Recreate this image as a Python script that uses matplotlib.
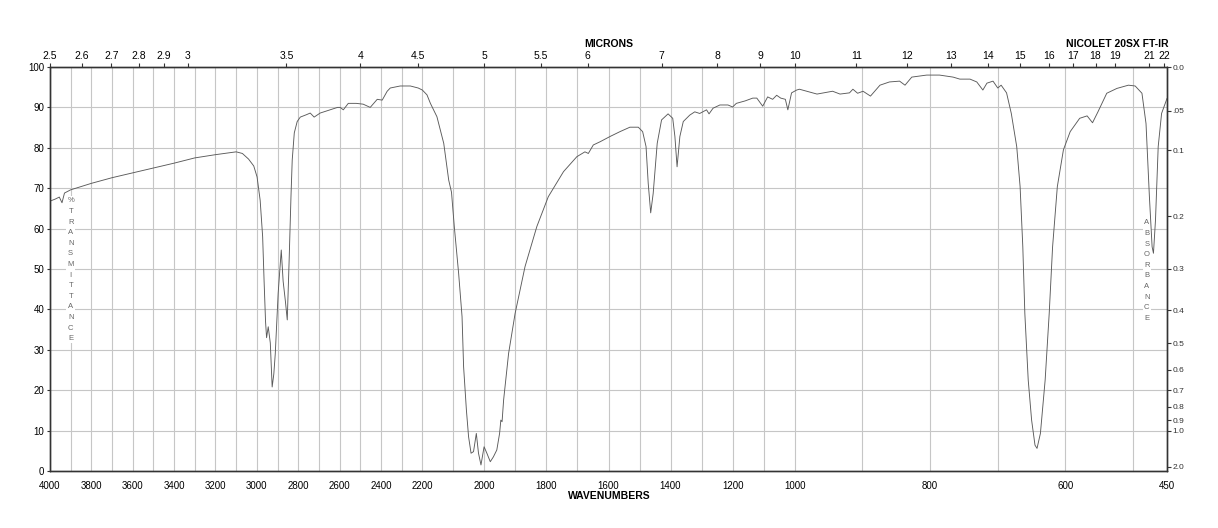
import numpy as np
import matplotlib
matplotlib.use("Agg")
import matplotlib.pyplot as plt

plt.rcParams["font.family"] = ["Liberation Sans", "DejaVu Sans"]

# spectrum: wavenumber (cm-1) and %T
wavenumber = [
    4000, 3975, 3955, 3942, 3930, 3900, 3850, 3800, 3700, 3600, 3500, 3400,
    3300, 3200, 3130, 3100, 3070, 3040, 3015, 2999, 2984, 2972, 2965, 2958,
    2953, 2945, 2935, 2926, 2918, 2911, 2897, 2882, 2873, 2862, 2853, 2844,
    2835, 2829, 2819, 2805, 2790, 2760, 2742, 2723, 2694, 2645, 2610, 2597,
    2582, 2558, 2520, 2486, 2452, 2418, 2394, 2370, 2355, 2307, 2258, 2220,
    2200, 2185, 2174, 2153, 2131, 2115, 2106, 2097, 2083, 2072, 2067, 2058,
    2051, 2043, 2035, 2026, 2019, 2011, 2001, 1992, 1981, 1971, 1960, 1951,
    1947, 1943, 1938, 1922, 1901, 1869, 1831, 1794, 1745, 1702, 1676, 1665,
    1649, 1627, 1595, 1563, 1531, 1504, 1490, 1479, 1472, 1464, 1456, 1443,
    1429, 1408, 1393, 1386, 1379, 1370, 1359, 1338, 1322, 1306, 1284, 1276,
    1263, 1241, 1215, 1200, 1188, 1160, 1135, 1122, 1103, 1087, 1071, 1058,
    1045, 1030, 1022, 1010, 997, 993, 978, 967, 944, 933, 919, 914,
    907, 899, 888, 874, 860, 845, 837, 827, 805, 786, 766, 756,
    741, 731, 722, 716, 707, 700, 695, 687, 680, 672, 667, 663,
    660, 655, 650, 645, 642, 637, 630, 624, 619, 612, 603, 593,
    579, 568, 560, 552, 539, 524, 507, 497, 487, 481, 476, 472,
    470, 467, 463, 458, 450,
]
transmittance = [
    66.8, 67.3, 67.8, 66.4, 68.8, 69.6, 70.4, 71.2, 72.6, 73.8, 75.0, 76.2,
    77.5, 78.3, 78.8, 79.0, 78.6, 77.2, 75.5, 72.8, 67.0, 58.0, 47.0, 37.0,
    33.0, 35.7, 31.7, 20.8, 24.0, 29.0, 44.0, 54.7, 47.0, 42.0, 37.4, 52.0,
    68.0, 77.0, 83.7, 86.5, 87.6, 88.2, 88.6, 87.6, 88.6, 89.4, 90.0, 90.0,
    89.4, 91.0, 91.0, 90.8, 90.0, 92.0, 91.8, 94.0, 94.8, 95.3, 95.3, 94.8,
    94.3, 93.1, 91.0, 87.7, 81.1, 72.0, 69.0, 60.5, 48.9, 38.2, 25.8, 15.1,
    8.5, 4.4, 4.8, 9.3, 4.4, 1.5, 6.0, 4.4, 2.3, 3.5, 5.2, 9.3,
    12.6, 12.2, 17.6, 29.1, 39.0, 50.6, 60.5, 67.9, 74.1, 77.8, 79.0, 78.6,
    80.7, 81.5, 82.8, 84.0, 85.1, 85.1, 84.0, 80.3, 71.2, 63.9, 68.7, 81.1,
    86.9, 88.4, 87.3, 82.8, 75.3, 82.8, 86.5, 88.1, 88.9, 88.5, 89.4, 88.4,
    89.8, 90.6, 90.6, 90.1, 91.0, 91.6, 92.3, 92.3, 90.3, 92.6, 92.0, 93.0,
    92.3, 92.0, 89.4, 93.6, 94.3, 94.5, 93.8, 93.3, 94.0, 93.3, 93.6, 94.5,
    93.5, 94.0, 92.8, 95.5, 96.3, 96.5, 95.5, 97.5, 98.0, 98.0, 97.5, 97.0,
    97.0, 96.3, 94.3, 96.0, 96.5, 94.8, 95.5, 93.6, 88.5, 80.3, 70.4, 55.5,
    39.0, 22.5, 12.6, 6.4, 5.6, 9.3, 22.5, 39.0, 55.5, 70.4, 79.5, 84.0,
    87.3, 87.9, 86.2, 88.9, 93.5, 94.7, 95.5, 95.3, 93.5, 86.0, 67.9, 55.5,
    53.9, 62.1, 80.3, 88.5, 92.2,
]

wn_ticks = [4000, 3800, 3600, 3400, 3200, 3000, 2800, 2600, 2400, 2200,
            2000, 1800, 1600, 1400, 1200, 1000, 800, 600, 450]
micron_ticks = [2.5, 2.6, 2.7, 2.8, 2.9, 3, 3.5, 4, 4.5, 5, 5.5, 6, 7, 8, 9,
                10, 11, 12, 13, 14, 15, 16, 17, 18, 19, 21, 22]
micron_labels = [f"{m:g}" for m in micron_ticks]
absorbance_ticks = [0.0, 0.05, 0.1, 0.2, 0.3, 0.4, 0.5, 0.6, 0.7, 0.8, 0.9, 1.0, 2.0]
absorbance_labels = ["0.0", ".05", "0.1", "0.2", "0.3", "0.4", "0.5", "0.6",
                     "0.7", "0.8", "0.9", "1.0", "2.0"]

# instrument chart paper: 4000-2200, 2200-1000 and 1000-450 each take a third
breaks_wn = [450, 1000, 2200, 4000]
breaks_u = [0, 1, 2, 3]


def fwd(w):
    return np.interp(w, breaks_wn, breaks_u)


def inv(u):
    return np.interp(u, breaks_u, breaks_wn)


spine_c = "#333333"
grid_c = "#c6c6c6"

fig = plt.figure(figsize=(12.18, 5.28), dpi=100)
ax = fig.add_axes([50 / 1218, 57 / 528, 1117 / 1218, 404 / 528])
ax.set_xscale("function", functions=(fwd, inv))
ax.plot(wavenumber, transmittance, color="#5a5a5a", lw=0.65, zorder=3)
ax.set_xlim(4000, 450)
ax.set_ylim(0, 100)
ax.set_xticks(wn_ticks)
ax.set_xticklabels([str(w) for w in wn_ticks])
ax.set_xticks(list(range(500, 4001, 100)), minor=True)
ax.set_yticks(range(0, 101, 10))
ax.grid(which="both", color=grid_c, lw=0.8)
ax.tick_params(axis="x", which="both", length=0, pad=7, labelsize=7)
ax.tick_params(axis="y", length=2.5, pad=1.5, labelsize=7, color=spine_c)
for s in ax.spines.values():
    s.set_color(spine_c)
    s.set_linewidth(0.9)

ax.text(3900, 49.8, "\n".join("%TRANSMITTANCE"), ha="center", va="center",
        fontsize=5.5, linespacing=1.72, color="#666666", zorder=2,
        bbox=dict(fc="white", ec="none", pad=0.8))
ax.text(480, 49.6, "\n".join("ABSORBANCE"), ha="center", va="center",
        fontsize=5.5, linespacing=1.72, color="#666666", zorder=2,
        bbox=dict(fc="white", ec="none", pad=0.8))

# microns along the top
ax_top = ax.twiny()
ax_top.set_xscale("function", functions=(fwd, inv))
ax_top.set_xlim(4000, 450)
ax_top.set_xticks([1e4 / m for m in micron_ticks])
ax_top.set_xticklabels(micron_labels)
ax_top.xaxis.set_minor_locator(plt.NullLocator())
ax_top.tick_params(axis="x", length=3, pad=1, labelsize=7.5, color=spine_c)

# absorbance on the right
ax_r = ax.twinx()
ax_r.set_ylim(0, 100)
ax_r.set_yticks([100 * 10 ** (-a) for a in absorbance_ticks])
ax_r.set_yticklabels(absorbance_labels)
ax_r.tick_params(axis="y", length=3, pad=1, labelsize=6, color=spine_c,
                 labelcolor="#333333")
for a in (ax_top, ax_r):
    for s in a.spines.values():
        s.set_color(spine_c)
        s.set_linewidth(0.9)

fig.text(609 / 1218, 1 - 44 / 528, "MICRONS", ha="center", va="center",
         fontsize=7.5, fontweight="bold")
fig.text(1169 / 1218, 1 - 44 / 528, "NICOLET 20SX FT-IR", ha="right",
         va="center", fontsize=7.5, fontweight="bold")
fig.text(609 / 1218, 1 - 496 / 528, "WAVENUMBERS", ha="center", va="center",
         fontsize=7.5, fontweight="bold")

fig.savefig("out.png", dpi=100)
